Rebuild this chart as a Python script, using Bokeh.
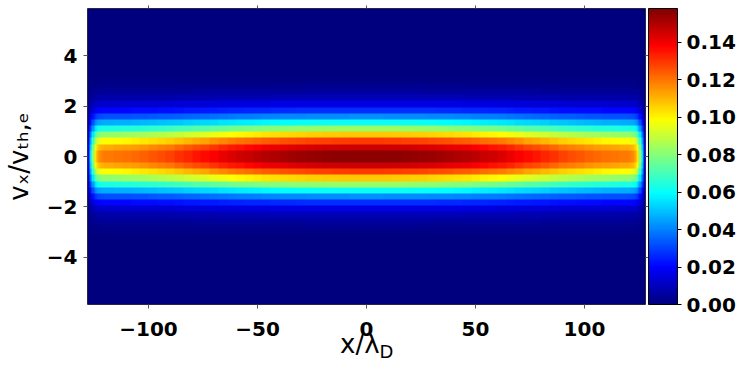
import numpy as np
from bokeh.plotting import figure
from bokeh.models import (LinearColorMapper, ColorBar, FixedTicker,
                          LinearAxis, PrintfTickFormatter, Range1d)
from bokeh.embed import file_html
from bokeh.resources import INLINE

# ---- data ----
# phase-space value at x = 0, for velocity cells from v = 0 outward (dv ~ 0.245)
f_center = [0.156, 0.146, 0.129, 0.107, 0.083, 0.061, 0.042, 0.027,
            0.016, 0.009, 0.005, 0.0025, 0.0012, 0.0005, 0.0002, 0.0,
            0.0, 0.0, 0.0, 0.0, 0.0, 0.0, 0.0, 0.0]
# relative density along x, from the left wall (x=-128) to the centre
n_widths = [1, 1, 1, 1, 1, 1, 1, 1] + [4] * 30
n_left = [0.12, 0.35, 0.52, 0.66, 0.72, 0.745, 0.755, 0.76,
          0.765, 0.77, 0.775, 0.78, 0.79, 0.80, 0.81, 0.82, 0.835, 0.85,
          0.865, 0.875, 0.89, 0.905, 0.92, 0.93, 0.94, 0.95, 0.96, 0.965,
          0.972, 0.978, 0.983, 0.988, 0.992, 0.995, 0.997, 0.999, 1.0, 1.0]
x_min, x_max = -128.0, 128.0
v_min, v_max = -5.875, 5.875
x_ticks = [-100, -50, 0, 50, 100]
v_ticks = [-4, -2, 0, 2, 4]
cb_ticks = [0.0, 0.02, 0.04, 0.06, 0.08, 0.10, 0.12, 0.14]
f_max = 0.158
x_label_main, x_label_sub = "x/\u03bb", "D"
y_label = "v\u2093/v\u209c\u2095,\u2091"

# ---- build the grid from the read profiles ----
n_cols = np.repeat(n_left + n_left[::-1], n_widths + n_widths[::-1])
g_rows = np.array(f_center[::-1] + f_center)
img = np.outer(g_rows, n_cols)


def jet(n=256):
    out = []
    for i in range(n):
        t = i / (n - 1)
        r = min(max(1.5 - abs(4 * t - 3), 0), 1)
        g = min(max(1.5 - abs(4 * t - 2), 0), 1)
        b = min(max(1.5 - abs(4 * t - 1), 0), 1)
        out.append("#%02x%02x%02x" % (int(r * 255), int(g * 255), int(b * 255)))
    return out


mapper = LinearColorMapper(palette=jet(), low=0.0, high=f_max)

p = figure(width=747, height=374, output_backend="svg", toolbar_location=None,
           x_range=Range1d(x_min, x_max), y_range=Range1d(v_min, v_max),
           min_border_left=84, min_border_right=102, min_border_top=8,
           min_border_bottom=70)
p.image(image=[img], x=x_min, y=v_min, dw=x_max - x_min, dh=v_max - v_min,
        color_mapper=mapper)

p.grid.visible = False
p.outline_line_color = "#333333"
p.outline_line_width = 1

FONT = "DejaVu Sans"
bottom_ax = p.below[0]
left_ax = p.left[0]

# mirrored tick-only axes on top and right
top_ax = LinearAxis(ticker=FixedTicker(ticks=x_ticks))
right_ax = LinearAxis(ticker=FixedTicker(ticks=v_ticks))
p.add_layout(top_ax, "above")
p.add_layout(right_ax, "right")
for ax in (top_ax, right_ax):
    ax.major_label_text_font_size = "1px"
    ax.major_label_text_color = None
    ax.major_label_standoff = 0
    ax.major_tick_out = 3

# extra label-only axis carrying the subscript of the x title
sub_ax = LinearAxis(ticker=FixedTicker(ticks=[]))
p.add_layout(sub_ax, "below")
sub_ax.major_tick_out = 0
sub_ax.major_label_text_font_size = "1px"
sub_ax.major_label_text_color = None
sub_ax.major_label_standoff = 0

for ax in (bottom_ax, left_ax, top_ax, right_ax, sub_ax):
    ax.axis_line_color = None
    ax.minor_tick_line_color = None
    ax.major_tick_in = 0
    ax.major_tick_line_color = "#555555"
for ax in (bottom_ax, left_ax):
    ax.major_label_text_font = FONT
    ax.major_label_text_font_style = "bold"
    ax.major_label_text_color = "black"
    ax.major_label_text_font_size = "20px"
    ax.major_tick_out = 4
bottom_ax.ticker = FixedTicker(ticks=x_ticks)
left_ax.ticker = FixedTicker(ticks=v_ticks)
bottom_ax.major_label_standoff = 13
left_ax.major_label_standoff = 6
bottom_ax.major_label_overrides = {t: str(t).replace("-", "\u2212") for t in x_ticks}
left_ax.major_label_overrides = {t: str(t).replace("-", "\u2212") for t in v_ticks}

# axis titles
bottom_ax.axis_label = x_label_main + "\u00a0\u2009"
bottom_ax.axis_label_standoff = -10
sub_ax.axis_label = "\u00a0" * 7 + x_label_sub
sub_ax.axis_label_standoff = -21
left_ax.axis_label = y_label
left_ax.axis_label_standoff = 10
for ax in (bottom_ax, left_ax, sub_ax):
    ax.axis_label_text_font = FONT
    ax.axis_label_text_font_style = "normal"
    ax.axis_label_text_color = "black"
    ax.axis_label_text_font_size = "26px"
sub_ax.axis_label_text_font_size = "18px"

cb = ColorBar(color_mapper=mapper, ticker=FixedTicker(ticks=cb_ticks),
              formatter=PrintfTickFormatter(format="%.2f"),
              width=29, padding=0, margin=0,
              bar_line_color="black", bar_line_width=1,
              major_tick_in=0, major_tick_out=4, major_tick_line_color="black",
              minor_tick_line_color=None,
              major_label_text_font=FONT, major_label_text_font_style="bold",
              major_label_text_font_size="20px", major_label_text_color="black",
              label_standoff=5,
              background_fill_color=None, border_line_color=None)
p.add_layout(cb, "right")

open("out.html", "w").write(file_html(p, INLINE))
